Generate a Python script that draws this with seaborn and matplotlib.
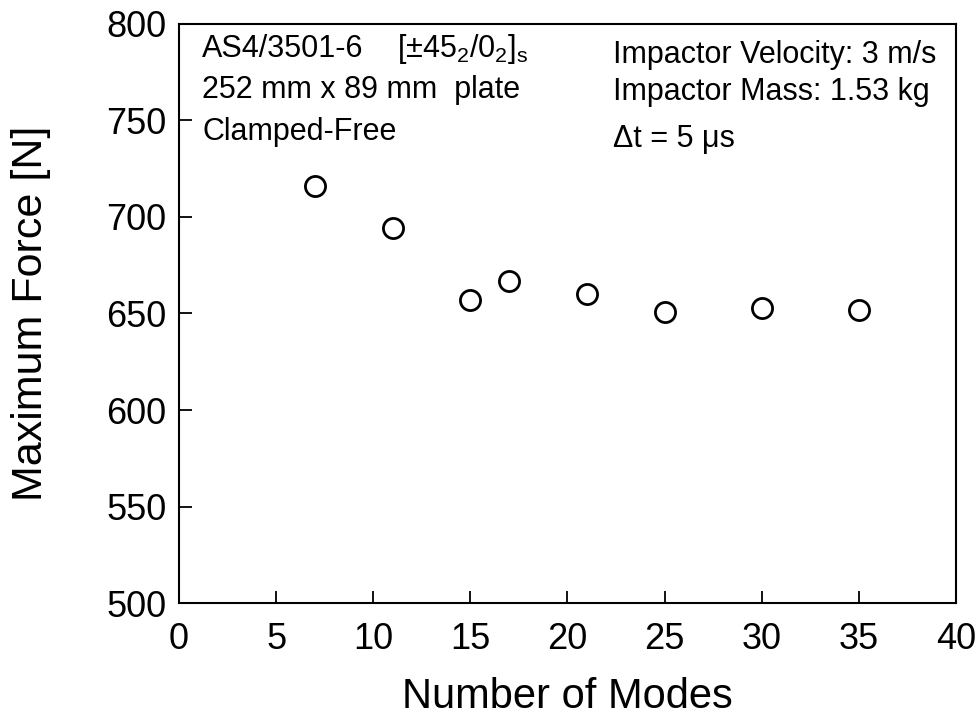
import matplotlib
matplotlib.use("Agg")
import matplotlib.pyplot as plt
import seaborn as sns
import pandas as pd

# Maximum impact force versus number of modes retained in the solution
modes = [7, 11, 15, 17, 21, 25, 30, 35]
max_force = [716, 694, 657, 667, 660, 651, 653, 652]

x_ticks = [0, 5, 10, 15, 20, 25, 30, 35, 40]
y_ticks = [500, 550, 600, 650, 700, 750, 800]

sns.set_style("ticks")
plt.rcParams["font.family"] = ["Liberation Sans", "DejaVu Sans"]
plt.rcParams["mathtext.fontset"] = "custom"
plt.rcParams["mathtext.rm"] = "Liberation Sans"
plt.rcParams["mathtext.it"] = "Liberation Sans:italic"
plt.rcParams["mathtext.bf"] = "Liberation Sans:bold"
for key in ("text.color", "axes.labelcolor", "xtick.color", "ytick.color",
            "axes.edgecolor"):
    plt.rcParams[key] = "black"

df = pd.DataFrame({"modes": modes, "force": max_force})

fig = plt.figure(figsize=(9.77, 7.21), dpi=100)
ax = fig.add_axes([0.1832, 0.163, 0.7953, 0.8044])

sns.scatterplot(data=df, x="modes", y="force", ax=ax, marker="o", s=210,
                facecolor="white", edgecolor="black", linewidth=2.0, zorder=3)

ax.set_xlim(0, 40)
ax.set_ylim(500, 800)
ax.set_xticks(x_ticks)
ax.set_yticks(y_ticks)
ax.tick_params(axis="both", direction="in", length=9, width=1.3,
               labelsize=26, color="black", labelcolor="black")
ax.tick_params(axis="x", pad=13)
ax.tick_params(axis="y", pad=9)
for sp in ax.spines.values():
    sp.set_linewidth(1.5)
    sp.set_color("black")

ax.set_xlabel("Number of Modes", fontsize=30, labelpad=15, color="black")
ax.set_ylabel("Maximum Force [N]", fontsize=31, labelpad=40, color="black")

# Specimen and test description
txt_kw = dict(transform=fig.transFigure, fontsize=22, ha="left",
              va="baseline", color="black")
fig.text(202 / 977, 1 - 57 / 721, "AS4/3501-6", **txt_kw)
fig.text(397 / 977, 1 - 57 / 721,
         r"[±45$_\mathregular{2}$/0$_\mathregular{2}$]$_\mathregular{s}$",
         **txt_kw)
fig.text(202 / 977, 1 - 98 / 721, "252 mm x 89 mm  plate", **txt_kw)
fig.text(202 / 977, 1 - 140 / 721, "Clamped-Free", **txt_kw)

fig.text(613 / 977, 1 - 63 / 721, "Impactor Velocity: 3 m/s", **txt_kw)
fig.text(613 / 977, 1 - 100 / 721, "Impactor Mass: 1.53 kg", **txt_kw)
fig.text(613 / 977, 1 - 147 / 721, "Δt = 5 μs", **txt_kw)

fig.savefig("out.png", dpi=100, facecolor="white")
